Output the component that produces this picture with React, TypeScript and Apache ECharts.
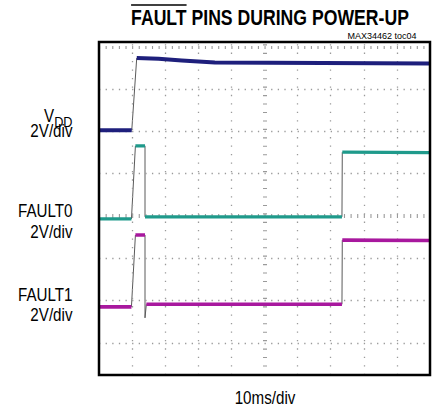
import React, { useEffect, useRef } from "react";
import * as echarts from "echarts";

// Time in ms (10 ms/div), levels in screen divisions (2 V/div, 8 divisions, bottom graticule line = 0)
const vddTime = [0, 9.9, 11.4, 18, 25, 35, 100];
const vddLevel = [6.03, 6.03, 7.74, 7.72, 7.68, 7.63, 7.61];
const vddEdges = [1];

const fault0Time = [0, 9.8, 11.0, 13.9, 13.9, 73.4, 73.5, 100];
const fault0Level = [3.93, 3.93, 5.66, 5.66, 3.98, 3.98, 5.51, 5.5];
const fault0Edges = [1, 3, 5];

const fault1Time = [0, 9.8, 11.0, 13.9, 13.9, 14.3, 73.4, 73.5, 100];
const fault1Level = [1.85, 1.85, 3.55, 3.55, 1.59, 1.91, 1.91, 3.43, 3.42];
const fault1Edges = [1, 3, 4, 6];

const xGridMs = [10, 20, 30, 40, 60, 70, 80, 90];
const xCenterMs = 50;
const yGridDiv = [1, 2, 3, 5, 6, 7];
const yCenterDiv = 4;
const yTopDiv = 8;

const titleText = "FAULT PINS DURING POWER-UP";
const overlineWord = "FAULT";
const noteText = "MAX34462 toc04";
const xLabel = "10ms/div";
const scaleLabel = "2V/div";
const channelLabels = ["FAULT0", "FAULT1"];

function detectNarrow(): boolean {
  const ctx = document.createElement("canvas").getContext("2d");
  if (!ctx) return false;
  ctx.font = '100px "Liberation Sans Narrow", monospace';
  const a = ctx.measureText("FAULT PINS").width;
  ctx.font = "100px monospace";
  const b = ctx.measureText("FAULT PINS").width;
  return Math.abs(a - b) > 0.5;
}

function measure(font: string, text: string): number {
  const ctx = document.createElement("canvas").getContext("2d");
  if (!ctx) return text.length * 10;
  ctx.font = font;
  return ctx.measureText(text).width;
}

function traceSeries(time: number[], level: number[], edges: number[], color: string, width: number) {
  const out: any[] = [];
  const mk = (data: number[][], c: string, w: number, z: number) => ({
    type: "line",
    data,
    symbol: "none",
    showSymbol: false,
    silent: true,
    z,
    lineStyle: { color: c, width: w, cap: "butt", join: "miter" },
  });
  let cur: number[][] = [[time[0], level[0]]];
  for (let i = 0; i < time.length - 1; i++) {
    const p = [time[i + 1], level[i + 1]];
    if (edges.includes(i)) {
      if (cur.length > 1) out.push(mk(cur, color, width, 5));
      out.push(mk([[time[i], level[i]], p], "#5a5a5a", 1, 4));
      cur = [p];
    } else {
      cur.push(p);
    }
  }
  if (cur.length > 1) out.push(mk(cur, color, width, 5));
  return out;
}

export default function App() {
  const ref = useRef<HTMLDivElement>(null);
  useEffect(() => {
    if (!ref.current) return;
    const chart = echarts.init(ref.current, null, { renderer: "svg" });
    const narrow = detectNarrow();
    const fam = narrow ? '"Liberation Sans Narrow"' : '"Liberation Sans", Arial, sans-serif';
    const sx = narrow ? 1 : 0.82;

    const titleFont = `bold 21.5px ${fam}`;
    const titleW = measure(titleFont, titleText) * sx;
    const faultW = measure(titleFont, overlineWord) * sx;
    const titleCx = 270;
    const titleLeft = titleCx - titleW / 2;

    const labelFont = `18.5px ${fam}`;
    const subFont = `15.5px ${fam}`;
    const ddW = measure(subFont, "DD") * sx;

    const dotGrey = "#9a9a9a";
    const hDot = { color: dotGrey, width: 1.3, type: [1.3, 5.32] };
    const vDot = { color: dotGrey, width: 1.3, type: [1.3, 7.15] };
    const hTick = { color: dotGrey, width: 4, type: [1.1, 5.52] };
    const vTick = { color: dotGrey, width: 4, type: [1.1, 7.35] };

    const markData: any[] = [
      ...yGridDiv.map((v) => ({ yAxis: v, lineStyle: hDot })),
      { yAxis: yCenterDiv, lineStyle: hTick },
      { yAxis: yTopDiv, lineStyle: { ...hTick, width: 3 } },
      ...xGridMs.map((v) => ({ xAxis: v, lineStyle: vDot })),
      { xAxis: xCenterMs, lineStyle: vTick },
    ];

    const text = (x: number, y: number, t: string, font: string, align: string, scale = sx) => ({
      type: "text",
      x,
      y,
      scaleX: scale,
      silent: true,
      style: { text: t, font, fill: "#000", textAlign: align, textVerticalAlign: "middle" },
    });

    const labelRight = 72.5;

    const option: any = {
      animation: false,
      backgroundColor: "#fff",
      grid: {
        left: 99,
        top: 42,
        width: 331,
        height: 333,
        show: true,
        borderColor: "#000",
        borderWidth: 2.5,
        backgroundColor: "transparent",
        z: 10,
      },
      xAxis: { type: "value", min: 0, max: 100, show: false },
      yAxis: { type: "value", min: 0.237, max: 8.118, show: false },
      series: [
        {
          type: "line",
          data: [[50, 4]],
          symbol: "none",
          silent: true,
          lineStyle: { opacity: 0 },
          z: 1,
          markLine: { silent: true, symbol: ["none", "none"], label: { show: false }, data: markData },
        },
        ...traceSeries(vddTime, vddLevel, vddEdges, "#1e1f7c", 4),
        ...traceSeries(fault0Time, fault0Level, fault0Edges, "#1f9a8b", 3.2),
        ...traceSeries(fault1Time, fault1Level, fault1Edges, "#a8189e", 3.6),
      ],
      graphic: [
        text(titleCx, 17.5, titleText, titleFont, "center"),
        {
          type: "line",
          silent: true,
          shape: { x1: titleLeft, y1: 5, x2: titleLeft + faultW, y2: 5 },
          style: { stroke: "#000", lineWidth: 1.5 },
        },
        text(416.5, 36, noteText, `9px "Liberation Sans", Arial, sans-serif`, "right", 1),
        text(labelRight - ddW, 115.5, "V", labelFont, "right"),
        text(labelRight, 121.5, "DD", subFont, "right"),
        text(labelRight, 130.5, scaleLabel, labelFont, "right"),
        text(labelRight, 211, channelLabels[0], labelFont, "right"),
        text(labelRight, 231.5, scaleLabel, labelFont, "right"),
        text(labelRight, 294.5, channelLabels[1], labelFont, "right"),
        text(labelRight, 315, scaleLabel, labelFont, "right"),
        text(265, 398.3, xLabel, labelFont, "center"),
      ],
    };
    chart.setOption(option);
    return () => chart.dispose();
  }, []);
  return (
    <div
      ref={ref}
      style={{ position: "absolute", left: 0, top: 0, width: 434, height: 412, background: "#fff" }}
    />
  );
}
